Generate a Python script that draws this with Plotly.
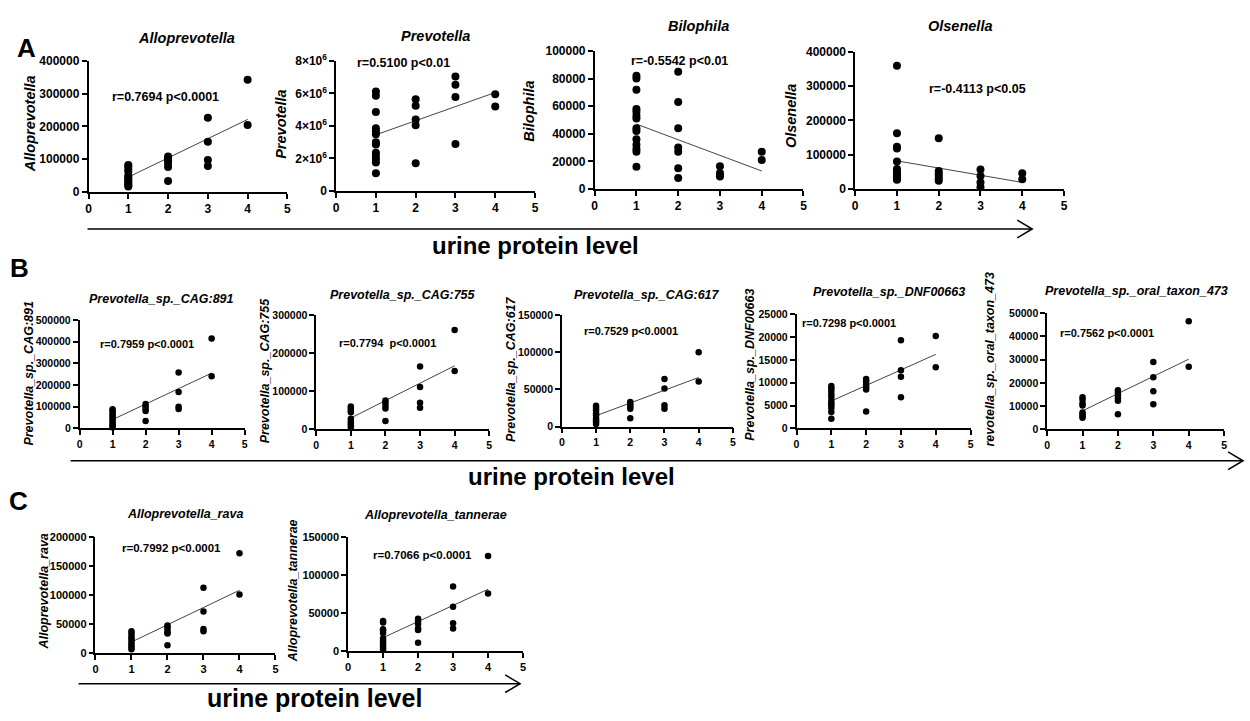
import plotly.graph_objects as go

# ---------------- data ----------------
levels = [1, 2, 3, 4]

alloprevotella = [
    [82000, 78000, 70000, 63000, 50000, 45000, 40000, 35000, 30000, 25000, 20000, 16000],
    [108000, 102000, 95000, 88000, 76000, 33000],
    [226000, 153000, 97000, 79000],
    [342000, 204000]]
alloprevotella_fit = [45000, 221000]

prevotella = [
    [6.11e6, 5.85e6, 4.85e6, 3.85e6, 3.65e6, 3.49e6, 2.99e6, 2.85e6, 2.34e6, 2.14e6, 1.94e6, 1.74e6, 1.08e6],
    [5.63e6, 5.23e6, 4.39e6, 4.03e6, 1.70e6],
    [7.03e6, 6.53e6, 5.77e6, 2.89e6],
    [5.95e6, 5.19e6]]
prevotella_fit = [3.45e6, 6.05e6]

bilophila = [
    [82000, 80000, 72000, 58000, 56000, 53000, 51000, 44000, 42000, 36000, 32000, 29000, 27000, 16000],
    [85000, 63000, 44000, 30000, 27000, 15000, 8000],
    [16500, 11500, 10000, 9000],
    [27000, 21000]]
bilophila_fit = [47000, 13000]

olsenella = [
    [360000, 163000, 123000, 118000, 80000, 58000, 52000, 46000, 40000, 35000, 30000, 27000],
    [148000, 52000, 45000, 38000, 30000, 24000],
    [57000, 38000, 19000, 5000],
    [46000, 28000]]
olsenella_fit = [82000, 19000]

cag891 = [
    [88000, 80000, 70000, 60000, 50000, 40000, 30000, 20000, 12000, 5000],
    [113000, 102000, 90000, 80000, 35000],
    [258000, 168000, 100000, 90000],
    [414000, 241000]]
cag891_fit = [41000, 255000]

cag755 = [
    [60000, 55000, 50000, 45000, 28000, 22000, 17000, 12000, 6000],
    [76000, 70000, 62000, 55000, 22000],
    [165000, 111000, 70000, 57000],
    [261000, 153000]]
cag755_fit = [30000, 167000]

cag617 = [
    [28000, 25000, 22000, 18000, 15000, 11000, 8000, 6000, 3500],
    [33000, 30000, 27000, 24000, 11000],
    [64000, 51000, 28500, 24000],
    [100000, 60500]]
cag617_fit = [14500, 66000]

dnf00663 = [
    [9300, 8800, 8200, 7500, 6800, 6000, 5500, 5000, 4500, 3600, 2100],
    [10800, 10300, 9600, 9000, 8500, 3700],
    [19300, 12700, 11300, 6800],
    [20200, 13400]]
dnf00663_fit = [6000, 16200]

oral473 = [
    [13800, 12800, 11200, 10300, 7300, 6500, 5700, 5000],
    [16800, 15800, 14800, 13500, 12300, 6500],
    [29000, 22400, 16400, 10800],
    [46500, 27000]]
oral473_fit = [8000, 30200]

rava = [
    [38000, 34000, 30000, 26000, 22000, 18000, 14000, 10000, 7000],
    [48000, 45000, 40000, 36000, 34000, 14000],
    [113000, 72000, 42000, 38000],
    [172000, 101000]]
rava_fit = [19500, 108500]

tannerae = [
    [40000, 38000, 29000, 27000, 24000, 17000, 14000, 11000, 8000, 5000, 2500],
    [43000, 40000, 36000, 30000, 28000, 11500],
    [85000, 58500, 37000, 30000],
    [125000, 76000]]
tannerae_fit = [18000, 81500]

x_ticks = [0, 1, 2, 3, 4, 5]

titles = ["Alloprevotella", "Prevotella", "Bilophila", "Olsenella",
          "Prevotella_sp._CAG:891", "Prevotella_sp._CAG:755", "Prevotella_sp._CAG:617",
          "Prevotella_sp._DNF00663", "Prevotella_sp._oral_taxon_473",
          "Alloprevotella_rava", "Alloprevotella_tannerae"]
ytitles = ["Alloprevotella", "Prevotella", "Bilophila", "Olsenella",
           "Prevotella_sp._CAG:891", "Prevotella_sp._CAG:755", "Prevotella_sp._CAG:617",
           "Prevotella_sp._DNF00663", "revotella_sp._oral_taxon_473",
           "Alloprevotella_rava", "Alloprevotella_tannerae"]
stats = ["r=0.7694 p<0.0001", "r=0.5100 p<0.01", "r=-0.5542 p<0.01", "r=-0.4113 p<0.05",
         "r=0.7959 p<0.0001", "r=0.7794  p<0.0001", "r=0.7529 p<0.0001",
         "r=0.7298 p<0.0001", "r=0.7562 p<0.0001",
         "r=0.7992 p<0.0001", "r=0.7066 p<0.0001"]
y_ticks = [
    [0, 100000, 200000, 300000, 400000],
    [0, 2e6, 4e6, 6e6, 8e6],
    [0, 20000, 40000, 60000, 80000, 100000],
    [0, 100000, 200000, 300000, 400000],
    [0, 100000, 200000, 300000, 400000, 500000],
    [0, 100000, 200000, 300000],
    [0, 50000, 100000, 150000],
    [0, 5000, 10000, 15000, 20000, 25000],
    [0, 10000, 20000, 30000, 40000, 50000],
    [0, 50000, 100000, 150000, 200000],
    [0, 50000, 100000, 150000]]
prevotella_ticktext = ["0", "2×10<sup>6</sup>", "4×10<sup>6</sup>", "6×10<sup>6</sup>", "8×10<sup>6</sup>"]
panel_letters = ["A", "B", "C"]
axis_label = "urine protein level"

series = [alloprevotella, prevotella, bilophila, olsenella, cag891, cag755, cag617,
          dnf00663, oral473, rava, tannerae]
fits = [alloprevotella_fit, prevotella_fit, bilophila_fit, olsenella_fit, cag891_fit,
        cag755_fit, cag617_fit, dnf00663_fit, oral473_fit, rava_fit, tannerae_fit]

# ---------------- layout (pixels) ----------------
W, H = 1250, 721
FONT = "Liberation Sans, Arial, sans-serif"


def px(x):
    return x / W


def py(y):
    return 1 - y / H


# x0 px, x5 px, ytop px, ybottom px
boxes = [(86, 286, 53, 187), (335, 535, 53, 186), (595, 805, 43, 184), (857, 1067, 44, 184),
         (77, 243, 318, 429), (315, 489, 313, 430), (562, 734, 313, 427),
         (798, 973, 312, 429), (1050, 1228, 311, 430),
         (93, 274, 540, 659), (347, 523, 540, 657)]
title_pos = [(185, 30), (435, 28), (699, 17), (962, 17),
             (159, 297), (402, 292), (648, 292), (891, 289), (1140, 288),
             (183, 516), (435, 517)]
ytitle_pos = [(28, 117), (280, 118), (529, 105), (792, 110),
              (26, 372), (263, 370), (511, 368), (751, 364), (993, 358),
              (41, 596), (291, 595)]
stat_pos = [(163, 90), (403, 55), (680, 53), (980, 82),
            (145, 343), (387, 342), (632, 329), (851, 321), (1110, 331),
            (169, 551), (422, 558)]
row_of = [0, 0, 0, 0, 1, 1, 1, 1, 1, 2, 2]
tick_size = [12, 10.5, 11]
title_size = [14.5, 12.5, 12.5]
stat_size = [12.5, 11, 11.5]
marker_size = [8, 6.5, 6.5]

fig = go.Figure()
layout = dict(width=W, height=H, margin=dict(l=0, r=0, t=0, b=0),
              paper_bgcolor="white", plot_bgcolor="white", showlegend=False,
              font=dict(family=FONT, color="black"))
annotations = []
shapes = []

for i, (vals, fit) in enumerate(zip(series, fits)):
    k = i + 1
    r = row_of[i]
    xs, ys = [], []
    for lvl, group in zip(levels, vals):
        xs += [lvl] * len(group)
        ys += group
    xa, ya = f"x{k}", f"y{k}"
    fig.add_trace(go.Scatter(x=[levels[0], levels[-1]], y=fit, mode="lines",
                             line=dict(color="#444", width=1), xaxis=xa, yaxis=ya,
                             hoverinfo="skip"))
    fig.add_trace(go.Scatter(x=xs, y=ys, mode="markers", cliponaxis=False,
                             marker=dict(color="black", size=marker_size[r]),
                             xaxis=xa, yaxis=ya))
    x0, x5, yt, yb = boxes[i]
    tf = dict(family=FONT, size=tick_size[r], color="black", weight="bold")
    layout[f"xaxis{k}"] = dict(domain=[px(x0), px(x5)], anchor=ya, range=[0, 5],
                               tickvals=x_ticks, ticktext=[str(t) for t in x_ticks],
                               showline=True, linecolor="black", linewidth=1.5,
                               ticks="outside", ticklen=5, tickwidth=1.5, tickcolor="black",
                               showgrid=False, zeroline=False, tickfont=tf, fixedrange=True)
    yt_vals = y_ticks[i]
    ytext = prevotella_ticktext if i == 1 else [str(int(v)) for v in yt_vals]
    layout[f"yaxis{k}"] = dict(domain=[py(yb), py(yt)], anchor=xa,
                               range=[0, yt_vals[-1]], tickvals=yt_vals, ticktext=ytext,
                               showline=True, linecolor="black", linewidth=1.5,
                               ticks="outside", ticklen=5, tickwidth=1.5, tickcolor="black",
                               showgrid=False, zeroline=False, tickfont=tf, fixedrange=True)
    tx, ty = title_pos[i]
    annotations.append(dict(x=px(tx), y=py(ty), xref="paper", yref="paper", text=titles[i],
                            showarrow=False, xanchor="center", yanchor="middle",
                            font=dict(family=FONT, size=title_size[r], color="black",
                                      weight="bold", style="italic")))
    yx, yy = ytitle_pos[i]
    annotations.append(dict(x=px(yx), y=py(yy), xref="paper", yref="paper", text=ytitles[i],
                            showarrow=False, xanchor="center", yanchor="middle", textangle=-90,
                            font=dict(family=FONT, size=title_size[r], color="black",
                                      weight="bold", style="italic")))
    sx, sy = stat_pos[i]
    annotations.append(dict(x=px(sx), y=py(sy), xref="paper", yref="paper", text=stats[i],
                            showarrow=False, xanchor="center", yanchor="middle",
                            font=dict(family=FONT, size=stat_size[r], color="black",
                                      weight="bold")))

# panel letters
letter_pos = [(24, 40), (17, 265), (16, 503)]
for (lx, ly), letter in zip(letter_pos, panel_letters):
    annotations.append(dict(x=px(lx), y=py(ly), xref="paper", yref="paper", text=letter,
                            showarrow=False, xanchor="center", yanchor="middle",
                            font=dict(family=FONT, size=26, color="black", weight="bold")))

# arrows with "urine protein level"
arrows = [(85, 1035, 225, 536, 242, 24), (68, 1247, 462, 572, 478, 24), (76, 520, 690, 313, 705, 25)]
for (ax0, ax1, ay, lx, ly, fs) in arrows:
    shapes.append(dict(type="line", xref="paper", yref="paper", x0=px(ax0), x1=px(ax1),
                       y0=py(ay), y1=py(ay), line=dict(color="black", width=1.5)))
    shapes.append(dict(type="path", xref="paper", yref="paper",
                       path=f"M {px(ax1 - 15)} {py(ay - 9)} L {px(ax1)} {py(ay)} L {px(ax1 - 15)} {py(ay + 9)}",
                       line=dict(color="black", width=1.5)))
    annotations.append(dict(x=px(lx), y=py(ly), xref="paper", yref="paper", text=axis_label,
                            showarrow=False, xanchor="center", yanchor="middle",
                            font=dict(family=FONT, size=fs, color="black", weight="bold")))

layout["annotations"] = annotations
layout["shapes"] = shapes
fig.update_layout(**layout)

fig.write_html("out.html", config={"displayModeBar": False},
               post_script="document.body.style.margin='0';")
